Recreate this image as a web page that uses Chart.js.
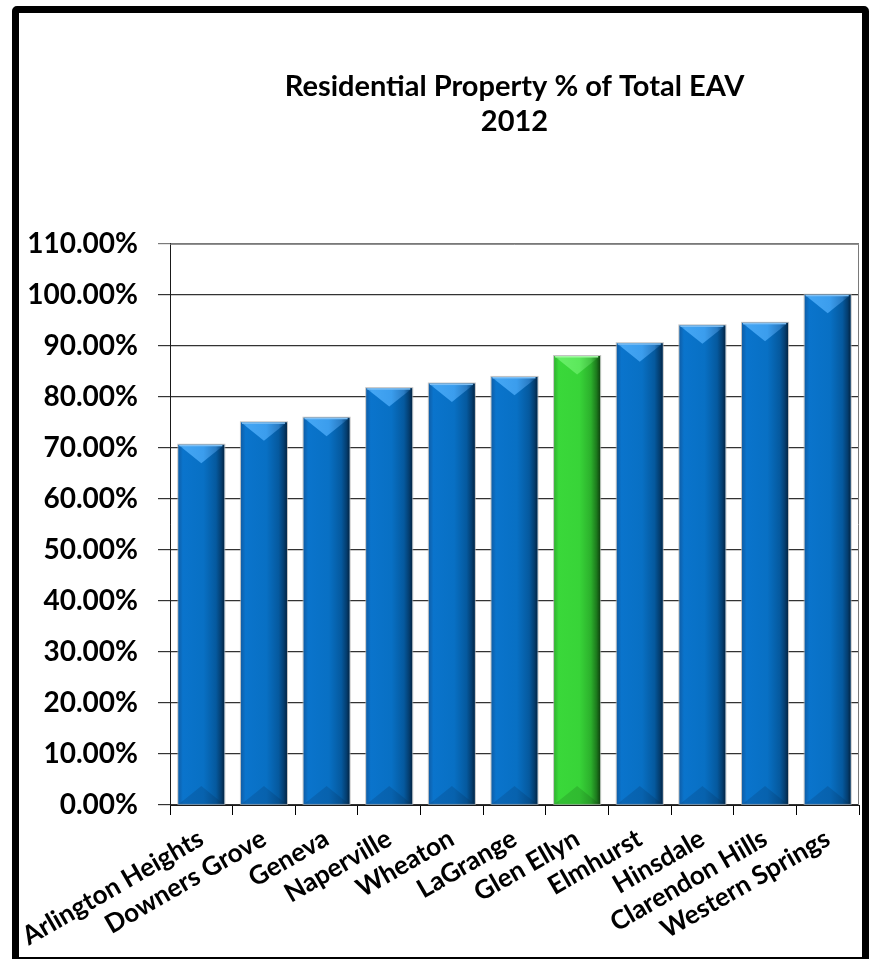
<!DOCTYPE html>
<html>
<head>
<meta charset="utf-8">
<title>Residential Property % of Total EAV 2012</title>
<script src="https://cdn.jsdelivr.net/npm/chart.js@4/dist/chart.umd.min.js"></script>
<style>
  html, body { margin: 0; padding: 0; background: #ffffff; }
  #wrap { position: relative; width: 872px; height: 959px; overflow: hidden; background: #ffffff; }
  #frame {
    position: absolute; left: 12px; top: 6px; width: 857px; height: 958px;
    box-sizing: border-box; border: 7px solid #000; border-radius: 5px;
  }
  #chart { position: absolute; left: 0; top: 0; }
</style>
</head>
<body>
<div id="wrap">
  <div id="frame"></div>
  <canvas id="chart" width="872" height="959"></canvas>
</div>
<script>
// Residential share of total equalized assessed valuation, 2012
const titleLines = ['Residential Property % of Total EAV', '2012'];
const towns = [
  'Arlington Heights', 'Downers Grove', 'Geneva', 'Naperville', 'Wheaton',
  'LaGrange', 'Glen Ellyn', 'Elmhurst', 'Hinsdale', 'Clarendon Hills', 'Western Springs'
];
const residentialPct = [70.6, 75.0, 75.9, 81.7, 82.6, 83.9, 88.0, 90.5, 94.0, 94.5, 100.0];
const highlightTown = 'Glen Ellyn';
const yMin = 0;
const yMax = 110;
const yStep = 10;

const FONT = 'Lato, "Open Sans", "Liberation Sans", sans-serif';

// Colour ramps for the cylinder-like bar shading (left -> right)
const palettes = {
  blue: {
    base: '#0870c4',
    body: [[0, '#0f5ea8'], [0.1, '#0a74cc'], [0.55, '#0870c4'], [0.82, '#05599e'], [0.93, '#043e70'], [1, '#022545']],
    cap:  [[0, '#2f86d0'], [0.12, '#44a6f4'], [0.55, '#3b9ded'], [0.82, '#2a7cc4'], [0.93, '#0e4f88'], [1, '#042a4c']],
    foot: [[0, '#0c589c'], [0.12, '#0966b6'], [0.55, '#0762ae'], [0.82, '#054f8e'], [0.93, '#043a68'], [1, '#022545']],
    rim: '#7fc0f5'
  },
  green: {
    base: '#38d438',
    body: [[0, '#2fb22f'], [0.1, '#3ad83a'], [0.55, '#38d438'], [0.8, '#2cb02c'], [0.92, '#1d7a1d'], [1, '#0f440f']],
    cap:  [[0, '#4ec94e'], [0.12, '#66ee66'], [0.55, '#5ce85c'], [0.8, '#45c445'], [0.92, '#268826'], [1, '#124a12']],
    foot: [[0, '#29a029'], [0.12, '#32bf32'], [0.55, '#30bb30'], [0.8, '#279c27'], [0.92, '#1b6e1b'], [1, '#0f440f']],
    rim: '#a6f7a6'
  }
};
const paletteFor = name => (name === highlightTown ? palettes.green : palettes.blue);

function hGradient(ctx, l, r, stops) {
  const g = ctx.createLinearGradient(l, 0, r, 0);
  stops.forEach(([o, c]) => g.addColorStop(o, c));
  return g;
}

// Paints each bar element (positions come from the bar elements) with bevelled shading
const barShading = {
  id: 'barShading',
  afterDatasetsDraw(chart) {
    const ctx = chart.ctx;
    const meta = chart.getDatasetMeta(0);
    ctx.save();
    meta.data.forEach((bar, i) => {
      const p = bar.getProps(['x', 'y', 'base', 'width'], true);
      const l = p.x - p.width / 2, r = p.x + p.width / 2;
      const t = Math.min(p.y, p.base), b = Math.max(p.y, p.base);
      const pal = paletteFor(towns[i]);
      const h = Math.min(p.width * 0.4, (b - t) / 2);

      ctx.fillStyle = hGradient(ctx, l, r, pal.body);
      ctx.fillRect(l, t, r - l, b - t);

      // top chevron
      ctx.beginPath();
      ctx.moveTo(l, t); ctx.lineTo(r, t); ctx.lineTo(p.x, t + h); ctx.closePath();
      ctx.fillStyle = hGradient(ctx, l, r, pal.cap);
      ctx.fill();

      // bottom wedge
      ctx.beginPath();
      ctx.moveTo(l, b); ctx.lineTo(r, b); ctx.lineTo(p.x, b - h); ctx.closePath();
      ctx.fillStyle = hGradient(ctx, l, r, pal.foot);
      ctx.fill();

      // bright rim along the top edge
      ctx.fillStyle = pal.rim;
      ctx.fillRect(l + 1, t, r - l - 3, 1.5);

      // faint outline
      ctx.strokeStyle = 'rgba(170,170,170,0.7)';
      ctx.lineWidth = 1;
      ctx.strokeRect(l - 0.5, t - 0.5, r - l + 1, b - t + 0.5);
    });
    ctx.restore();
  }
};

// Thin grey box line on the top and right of the plot area
const plotBox = {
  id: 'plotBox',
  afterDraw(chart) {
    const a = chart.chartArea, ctx = chart.ctx;
    ctx.save();
    ctx.strokeStyle = '#7a7a7a';
    ctx.lineWidth = 1;
    ctx.beginPath();
    ctx.moveTo(a.left, a.top + 0.5);
    ctx.lineTo(a.right - 0.5, a.top + 0.5);
    ctx.lineTo(a.right - 0.5, a.bottom);
    ctx.stroke();
    ctx.restore();
  }
};

new Chart(document.getElementById('chart'), {
  type: 'bar',
  data: {
    labels: towns,
    datasets: [{
      data: residentialPct,
      backgroundColor: towns.map(t => paletteFor(t).base),
      borderWidth: 0,
      barPercentage: 0.735,
      categoryPercentage: 1
    }]
  },
  options: {
    responsive: false,
    animation: false,
    devicePixelRatio: 1,
    layout: { padding: { left: 0, right: 13, top: 0, bottom: 0 } },
    plugins: {
      legend: { display: false },
      tooltip: { enabled: false },
      title: {
        display: true,
        text: titleLines,
        fullSize: false,
        color: '#000',
        font: { family: FONT, size: 29, weight: 'bold', lineHeight: 1.22 },
        padding: { top: 69, bottom: 104 }
      }
    },
    scales: {
      x: {
        offset: true,
        grid: { display: true, drawOnChartArea: false, drawTicks: true, tickLength: 10, color: '#000', offset: true },
        border: { display: true, color: '#1a1a1a', width: 1 },
        ticks: {
          color: '#000',
          font: { family: FONT, size: 26, weight: 'bold' },
          minRotation: 30,
          maxRotation: 30,
          autoSkip: false,
          padding: 8
        },
        afterFit(s) { s.height = 154; }
      },
      y: {
        min: yMin,
        max: yMax,
        ticks: {
          stepSize: yStep,
          color: '#000',
          font: { family: FONT, size: 28, weight: 'bold' },
          padding: 20,
          callback: v => v.toFixed(2) + '%'
        },
        grid: {
          color: c => (c.tick && c.tick.value === yMax ? '#7a7a7a' : '#333333'),
          lineWidth: 1.2,
          tickLength: 12,
          drawTicks: true
        },
        border: { display: true, color: '#1a1a1a', width: 1 },
        afterFit(s) { s.width = 170; }
      }
    }
  },
  plugins: [barShading, plotBox]
});
</script>
</body>
</html>
